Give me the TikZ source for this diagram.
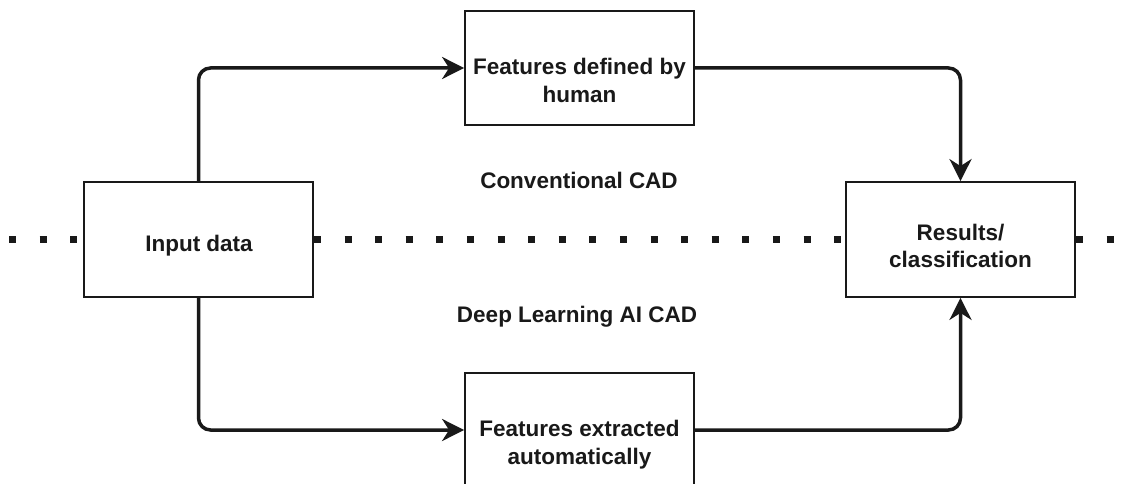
\documentclass[tikz,border=0pt]{standalone}
\usepackage{fontspec}
\setmainfont{Liberation Sans}
\usetikzlibrary{arrows.meta}
\tikzset{
  box/.style={draw=black!90, line width=1.8pt, fill=white, minimum width=229pt, minimum height=114.5pt, inner sep=0pt},
  lbl/.style={align=center, inner sep=0pt, font=\fontsize{22.5}{27.5}\selectfont\bfseries, text=black!90},
  flow/.style={draw=black!90, line width=3.5pt, rounded corners=12pt, -{Stealth[length=22pt,width=22pt,inset=7pt]}},
  divider/.style={draw=black!90, line width=7pt, dash pattern=on 7pt off 23.6pt}
}
\begin{document}
\begin{tikzpicture}[x=1pt,y=-1pt]
\clip (0,0) rectangle (1137,484);
\fill[white] (0,0) rectangle (1137,484);
% box positions
\coordinate (cin) at (198.5,239.5);
\coordinate (ctop) at (579.5,68);
\coordinate (cbot) at (579.5,430);
\coordinate (cres) at (960.5,239.5);
\node[box, minimum height=115pt] (input) at (cin) {};
\node[box] (top) at (ctop) {};
\node[box] (bot) at (cbot) {};
\node[box, minimum height=115pt] (res) at (cres) {};
% dividing dotted line
\coordinate (dl) at (9,239.5);
\coordinate (dr) at (1150,239.5);
\draw[divider] (dl) -- (input.west);
\draw[divider] (input.east) -- (res.west);
\draw[divider] (res.east) -- (dr);
% box borders again on top of the dots
\node[box, minimum height=115pt, fill=none] (inputb) at (cin) {};
\node[box, minimum height=115pt, fill=none] (resb) at (cres) {};
% labels
\node[lbl] (tin) at (199,246.2) {\strut Input data};
\node[lbl] (ttop) at (579.5,83.25) {\strut Features defined by\\\strut human};
\node[lbl] (tbot) at (579.5,444.75) {\strut Features extracted\\\strut automatically};
\node[lbl] (tres) at (960.5,248.25) {\strut Results/\\\strut classification};
\node[lbl] (conv) at (579,182.8) {\strut Conventional CAD};
\node[lbl] (deep) at (577,317.2) {\strut Deep Learning AI CAD};
% connectors
\draw[flow] (input.north) |- (top.west);
\draw[flow] (input.south) |- (bot.west);
\draw[flow] (top.east) -| (res.north);
\draw[flow] (bot.east) -| (res.south);
\end{tikzpicture}
\end{document}
